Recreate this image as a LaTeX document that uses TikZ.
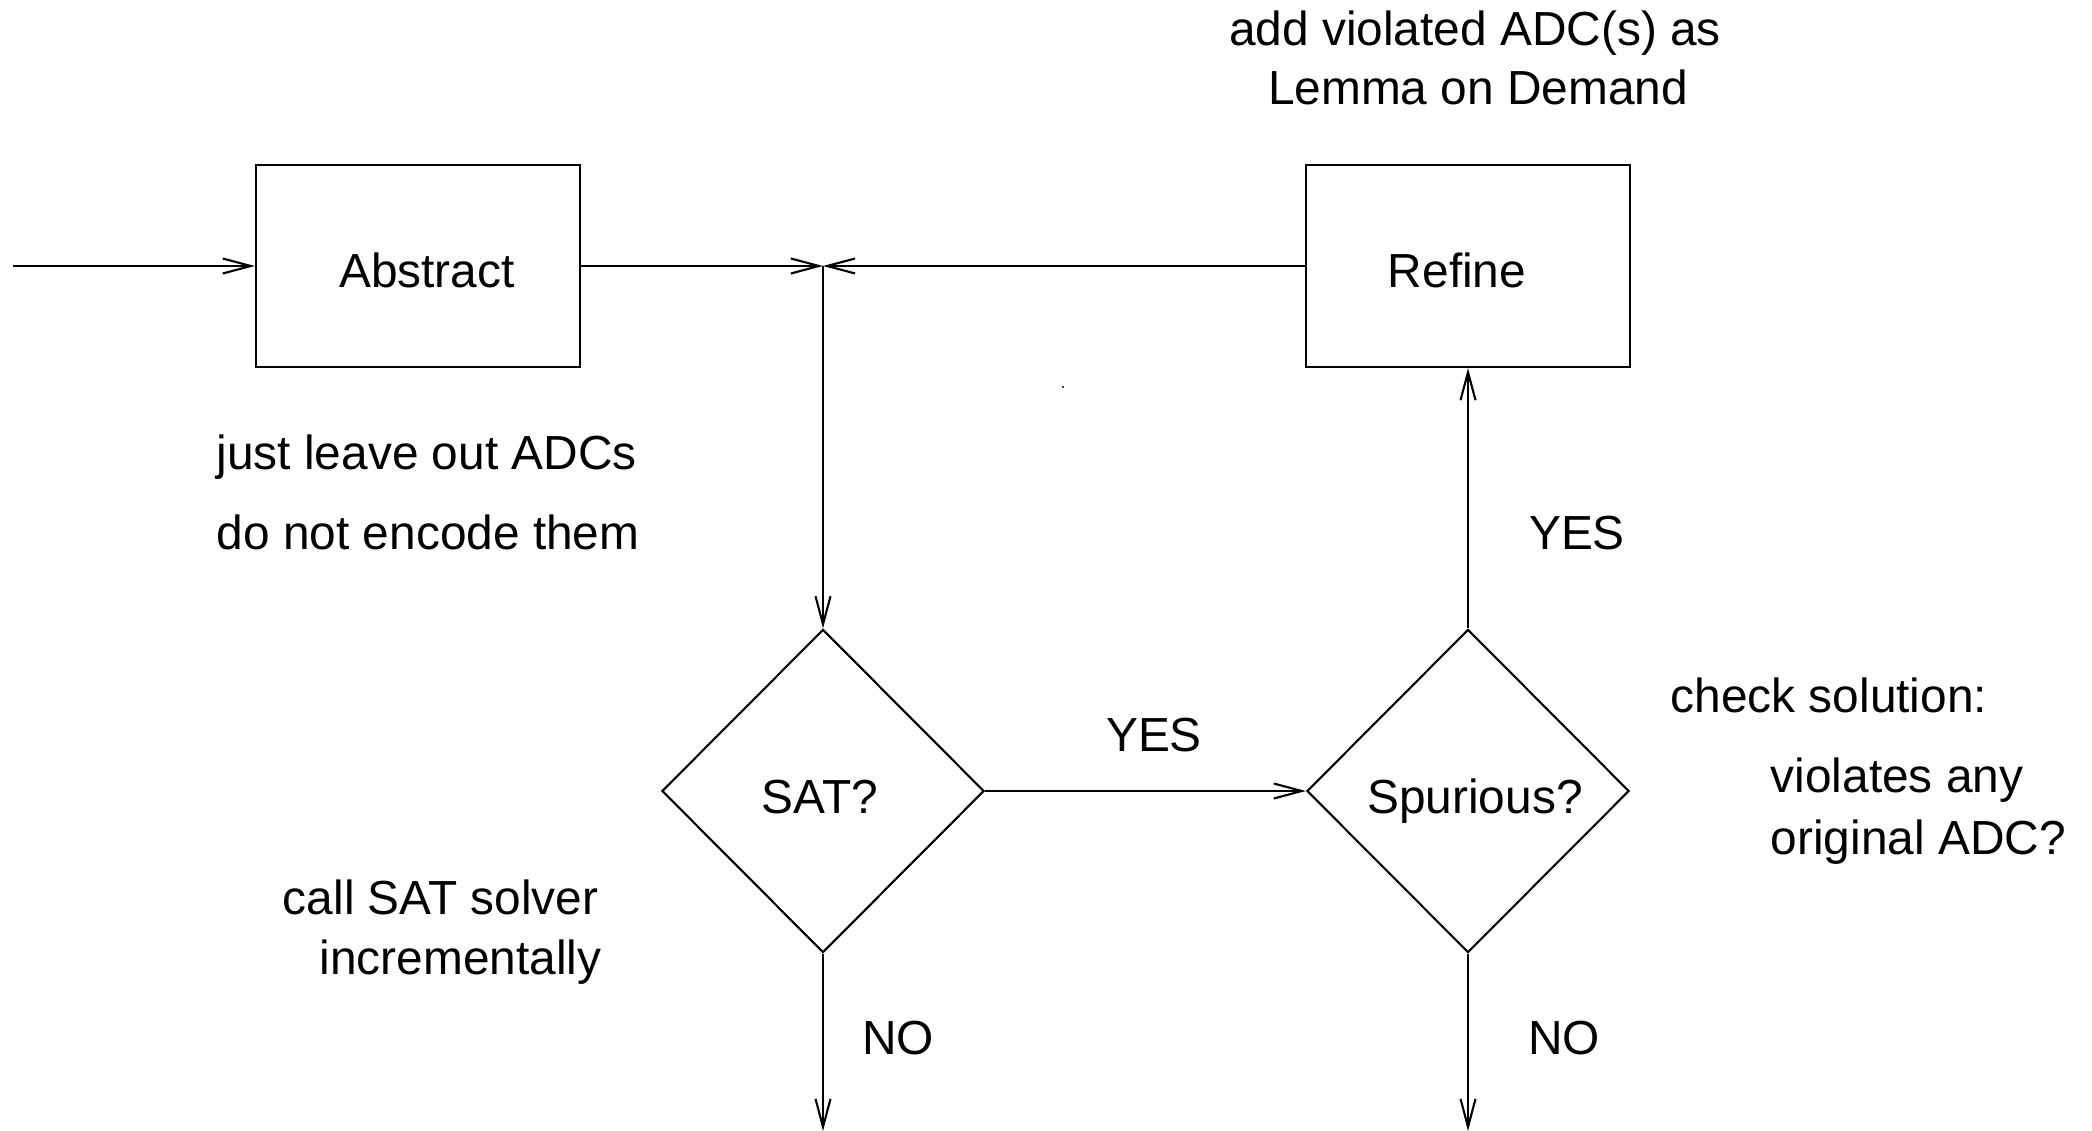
\documentclass[tikz,border=0pt]{standalone}
\usepackage{fontspec}
\setmainfont{Liberation Sans}
\usetikzlibrary{shapes.geometric,arrows.meta}
\begin{document}
\begin{tikzpicture}[x=0.01cm,y=-0.01cm,
  every node/.style={font=\fontsize{13.6}{16.8}\selectfont},
  flow/.style={line width=0.6pt,-{Straight Barb[length=0.28cm,width=0.15cm,line width=0.6pt]}},
  procbox/.style={draw,line width=0.6pt,minimum width=3.24cm,minimum height=2.02cm,inner sep=0pt},
  decision/.style={draw,diamond,line width=0.6pt,minimum width=3.22cm,minimum height=3.23cm,inner sep=0pt},
  note/.style={inner sep=0pt}]
\useasboundingbox (0,0) rectangle (2092,1131);

% process boxes and decisions
\node[procbox] (abs) at (418,266) {};
\node[procbox] (ref) at (1468,266) {};
\node[decision] (sat) at (823,791) {};
\node[decision] (spu) at (1468,791) {};

% their captions
\node[note,anchor=base] (abst) at (427,288) {Abstract};
\node[note,anchor=base] (reft) at (1457,288) {Refine};
\node[note,anchor=base] (satt) at (820,813) {SAT?};
\node[note,anchor=base] (sput) at (1475,813) {Spurious?};

% free ends of connectors
\coordinate (in) at (13,266);
\coordinate (j) at (823,266);
\coordinate (satout) at (823,1131);
\coordinate (spuout) at (1468,1131);

% connectors
\draw[flow] (in) -- (abs.west);
\draw[flow] (abs.east) -- (j);
\draw[flow] (ref.west) -- (j);
\draw[flow] (j) -- (sat.north);
\draw[flow] (sat.east) -- (spu.west);
\draw[flow] (spu.north) -- (ref.south);
\draw[flow] (sat.south) -- (satout);
\draw[flow] (spu.south) -- (spuout);

% branch labels
\node[note,anchor=base] (yes1) at (1154,751) {YES};
\node[note,anchor=base] (yes2) at (1577,549) {YES};
\node[note,anchor=base] (no1) at (898,1054) {NO};
\node[note,anchor=base] (no2) at (1564,1054) {NO};

% annotations
\node[note,anchor=base] (lod1) at (1475,46) {add violated ADC(s) as};
\node[note,anchor=base] (lod2) at (1478,105) {Lemma on Demand};
\node[note,anchor=base west] (abs1) at (216,469) {just leave out ADCs};
\node[note,anchor=base west] (abs2) at (216,549) {do not encode them};
\node[note,anchor=base east] (sat1) at (599,914) {call SAT solver};
\node[note,anchor=base east] (sat2) at (602,974) {incrementally};
\node[note,anchor=base west] (chk1) at (1670,712) {check solution:};
\node[note,anchor=base west] (chk2) at (1770,792) {violates any};
\node[note,anchor=base west] (chk3) at (1770,854) {original ADC?};

% stray dot
\fill (1063,387) circle[radius=1.2];
\end{tikzpicture}
\end{document}
